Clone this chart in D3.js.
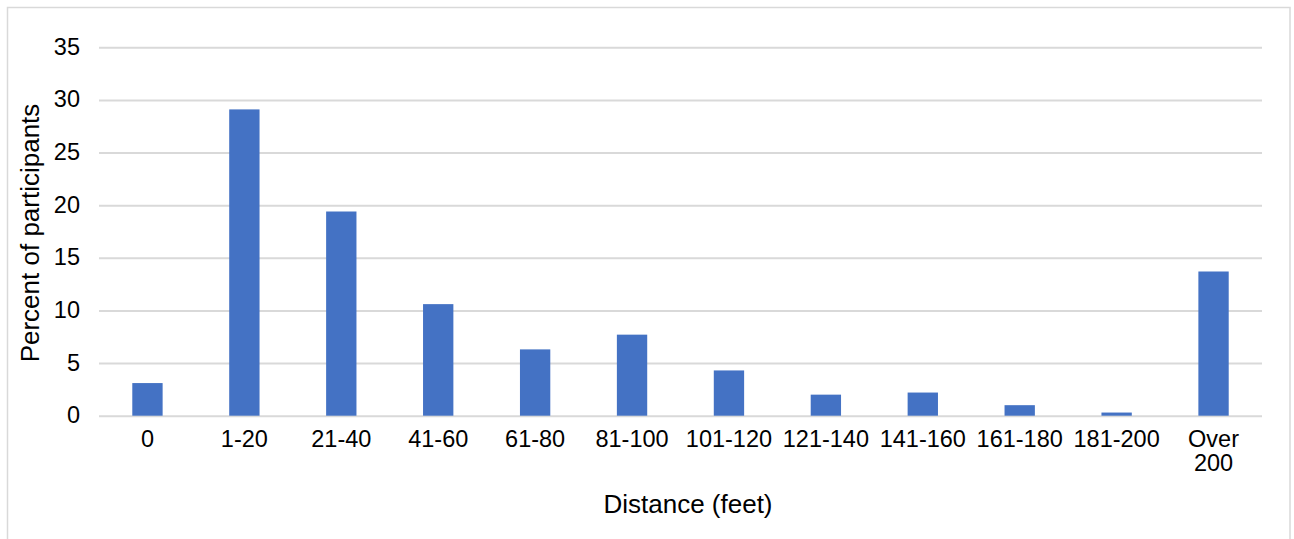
<!DOCTYPE html>
<html>
<head>
<meta charset="utf-8">
<script src="https://cdn.jsdelivr.net/npm/d3@7"></script>
<style>
  html, body { margin: 0; padding: 0; background: #fff; }
  svg { display: block; font-family: "Liberation Sans", Arial, Helvetica, sans-serif; }
</style>
</head>
<body>
<svg id="chart" width="1294" height="539"></svg>
<script>
// Distance categories (feet) and share of participants (%)
const categories = ["0", "1-20", "21-40", "41-60", "61-80", "81-100", "101-120",
                    "121-140", "141-160", "161-180", "181-200", "Over 200"];
const percents = [3.1, 29.1, 19.4, 10.6, 6.3, 7.7, 4.3, 2.0, 2.2, 1.0, 0.3, 13.7];
const yTicks = [0, 5, 10, 15, 20, 25, 30, 35];
const xTitle = "Distance (feet)";
const yTitle = "Percent of participants";

const svg = d3.select("#chart");
const W = 1294, H = 539;
const plot = { left: 99, right: 1262, top: 47.3, bottom: 415.7 };

// Outer frame
svg.append("rect")
  .attr("x", 7.5).attr("y", 7.5)
  .attr("width", 1290 - 7.5).attr("height", H + 10)
  .attr("fill", "#fff").attr("stroke", "#d9d9d9").attr("stroke-width", 1.5);

const x = d3.scaleBand()
  .domain(categories)
  .range([plot.left, plot.right])
  .paddingInner(0.687)
  .paddingOuter(0.687 / 2);

const y = d3.scaleLinear().domain([0, 35]).range([plot.bottom, plot.top]);

// Horizontal gridlines + y tick labels
const yAxis = d3.axisLeft(y).tickValues(yTicks).tickSize(-(plot.right - plot.left)).tickPadding(19);
const gy = svg.append("g").attr("transform", `translate(${plot.left},0)`).call(yAxis);
gy.select(".domain").remove();
gy.selectAll(".tick line").attr("stroke", "#d9d9d9").attr("stroke-width", 2);
gy.selectAll(".tick text")
  .attr("fill", "#000").attr("font-size", 23.5)
  .attr("font-family", "Liberation Sans, Arial, sans-serif")
  .attr("dy", "0.3em");

// Bars
svg.append("g").selectAll("rect")
  .data(percents)
  .join("rect")
  .attr("x", (d, i) => x(categories[i]))
  .attr("y", d => y(d))
  .attr("width", x.bandwidth())
  .attr("height", d => y(0) - y(d))
  .attr("fill", "#4472C4");

// x category labels (wrap "Over 200" onto two lines)
const gx = svg.append("g").attr("transform", `translate(0,${plot.bottom})`)
  .call(d3.axisBottom(x).tickSize(0).tickPadding(0));
gx.select(".domain").remove();
gx.selectAll(".tick text").each(function(d) {
  const t = d3.select(this);
  t.text(null).attr("y", 0).attr("dy", null)
    .attr("fill", "#000").attr("font-size", 23.5)
    .attr("font-family", "Liberation Sans, Arial, sans-serif");
  const parts = d === "Over 200" ? ["Over", "200"] : [d];
  parts.forEach((p, k) => {
    t.append("tspan").attr("x", 0).attr("y", 31.5 + k * 23.5).text(p);
  });
});

// Axis titles
svg.append("text")
  .attr("x", 688).attr("y", 513)
  .attr("text-anchor", "middle")
  .attr("font-size", 26).attr("fill", "#000")
  .text(xTitle);

svg.append("text")
  .attr("transform", `translate(39,233) rotate(-90)`)
  .attr("text-anchor", "middle")
  .attr("font-size", 26).attr("fill", "#000")
  .text(yTitle);
</script>
</body>
</html>
